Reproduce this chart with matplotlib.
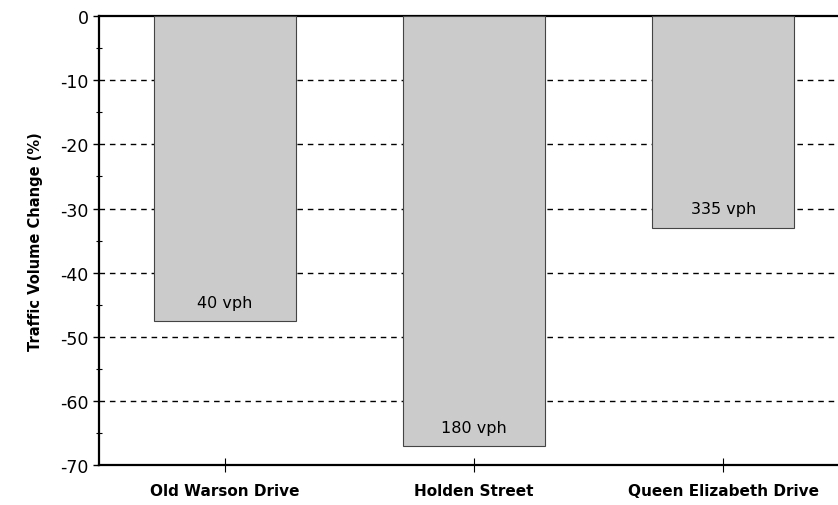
import numpy as np
import matplotlib.pyplot as plt

plt.rcParams['axes.unicode_minus'] = False

# traffic volume change per street
streets = ['Old Warson Drive', 'Holden Street', 'Queen Elizabeth Drive']
changes = [-47.6, -67.1, -33.0]
volumes = ['40 vph', '180 vph', '335 vph']

fig = plt.figure(figsize=(8.38, 5.06), dpi=100)
ax = fig.add_axes([0.118, 0.079, 0.882, 0.887])

x = np.arange(len(streets))
bars = ax.bar(x, changes, width=0.57, color='#cbcbcb', edgecolor='#444444',
              linewidth=0.8, zorder=3)

for bar, lab in zip(bars, volumes):
    ax.text(bar.get_x() + bar.get_width() / 2, bar.get_height() + 3, lab,
            ha='center', va='center', fontsize=11.5, zorder=4)

ax.set_xlim(-0.505, 2.46)
ax.set_ylim(-70, 0)
ax.set_yticks(np.arange(-70, 1, 10))
ax.set_yticks(np.arange(-65, 0, 10), minor=True)
ax.set_xticks(x)
ax.set_xticklabels(streets, fontweight='bold', fontsize=11)
ax.tick_params(axis='y', labelsize=12.5, direction='out', length=4, width=1)
ax.tick_params(axis='y', which='minor', direction='inout', length=4, width=0.8)
ax.tick_params(axis='x', direction='inout', length=10, width=0.8, pad=8)

for yv in range(-60, 0, 10):
    ax.axhline(yv, color='black', linestyle=(0, (4, 3.5)), linewidth=1, zorder=1)

ax.spines['right'].set_visible(False)
for s in ['left', 'top', 'bottom']:
    ax.spines[s].set_linewidth(1.6)

ax.set_ylabel('Traffic Volume Change (%)', fontweight='bold', fontsize=10.5, labelpad=12)

plt.savefig('out.png', dpi=100)
